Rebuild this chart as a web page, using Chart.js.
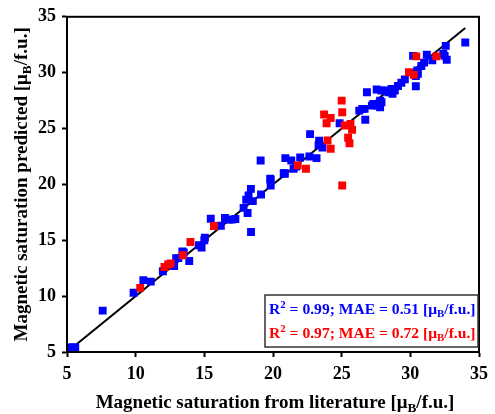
<!DOCTYPE html>
<html>
<head>
<meta charset="utf-8">
<script src="https://cdn.jsdelivr.net/npm/chart.js@4/dist/chart.umd.min.js"></script>
<style>
  html, body { margin: 0; padding: 0; background: #fff; }
  #wrap { width: 495px; height: 414px; }
</style>
</head>
<body>
<div id="wrap"><canvas id="myChart" width="495" height="414"></canvas></div>
<script>
// 学習データ（青）: [文献値, 予測値]
var trainX = [5.2, 5.6, 5.4, 7.6, 9.85, 10.56, 11.1, 11.98, 12.8, 12.95, 13.1, 13.5, 13.4, 13.9,
  14.6, 14.8, 15.0, 15.04, 15.47, 16.2, 16.5, 16.8, 17.0, 17.26, 18.4, 17.86, 18.15, 18.05, 18.22,
  18.53, 18.39, 19.13, 19.83, 19.83, 20.78, 19.1, 20.85, 20.9, 21.33, 21.5, 21.7, 21.98, 22.65,
  23.17, 22.7, 23.36, 23.32, 23.6, 24.85, 26.84, 26.28, 26.67, 26.72, 27.3, 27.8, 27.8, 27.9,
  29.6, 29.35, 29.1, 28.87, 28.63, 28.4, 28.15, 27.56, 27.2, 27.9, 30.4, 30.4, 30.5, 30.8, 31.0,
  31.6, 31.2, 32.4, 32.65, 32.58, 34.0, 26.5, 27.55, 28.7, 30.2, 32.5, 30.55, 19.8, 20.85];
var trainY = [5.4, 5.4, 5.4, 8.7, 10.3, 11.43, 11.3, 12.23, 12.7, 13.4, 13.4, 13.9, 14.0, 13.15,
  14.55, 14.35, 15.0, 15.24, 16.93, 16.3, 17.0, 16.85, 16.85, 16.9, 15.74, 17.9, 17.44, 18.63, 19.0,
  18.5, 19.6, 19.1, 20.4, 19.9, 21.0, 22.14, 20.95, 22.35, 22.14, 21.4, 21.6, 22.4, 22.5,
  22.35, 24.5, 23.9, 23.5, 23.3, 25.47, 28.24, 26.6, 26.76, 25.78, 27.2, 27.5, 26.9, 28.4,
  29.4, 29.1, 28.8, 28.4, 28.55, 28.24, 28.4, 27.05, 27.05, 27.35, 28.78, 29.7, 30.2, 30.6, 30.9,
  31.1, 31.6, 31.67, 31.16, 32.4, 32.7, 26.75, 28.5, 28.1, 31.5, 31.5, 29.9, 20.5, 21.0];

// テストデータ（赤）
var testX = [10.33, 12.1, 12.36, 12.55, 13.43, 13.99, 15.7, 21.8, 22.4, 23.97, 24.2, 23.72, 24.2,
  23.9, 25.0, 25.04, 25.23, 25.64, 25.76, 25.47, 25.57, 25.04, 29.9, 30.25, 30.43, 31.9];
var testY = [10.74, 12.6, 12.83, 12.92, 13.66, 14.85, 16.28, 21.7, 21.4, 23.93, 23.19, 26.25, 25.95,
  25.47, 27.5, 26.46, 25.27, 25.42, 24.88, 24.17, 23.69, 19.9, 30.03, 29.8, 31.46, 31.46];

// y = x の線
var lineX = [5, 34];
var lineY = [5, 34];

var tickValues = [5, 10, 15, 20, 25, 30, 35];
var xTitle = [['Magnetic saturation from literature [\u03bc', 'n'], ['B', 'sub'], ['/f.u.]', 'n']];
var yTitle = [['Magnetic saturation predicted [\u03bc', 'n'], ['B', 'sub'], ['/f.u.]', 'n']];
var statTrain = [['R', 'n'], ['2', 'sup'], [' = 0.99; MAE = 0.51 [\u03bc', 'n'], ['B', 'sub'], ['/f.u.]', 'n']];
var statTest = [['R', 'n'], ['2', 'sup'], [' = 0.97; MAE = 0.72 [\u03bc', 'n'], ['B', 'sub'], ['/f.u.]', 'n']];

function toPoints(xs, ys) {
  var pts = [];
  for (var i = 0; i < xs.length; i++) pts.push({ x: xs[i], y: ys[i] });
  return pts;
}

var FONT = '"Liberation Serif", "Times New Roman", serif';

// 上付き・下付き付きの文字列を描く
function richWidth(ctx, parts, size) {
  var w = 0;
  parts.forEach(function (p) {
    var s = p[1] === 'n' ? size : size * 0.7;
    ctx.font = 'bold ' + s + 'px ' + FONT;
    w += ctx.measureText(p[0]).width;
  });
  return w;
}
function drawRich(ctx, parts, x, y, size, color) {
  ctx.fillStyle = color;
  ctx.textBaseline = 'alphabetic';
  ctx.textAlign = 'left';
  parts.forEach(function (p) {
    var s = p[1] === 'n' ? size : size * 0.7;
    var dy = p[1] === 'sup' ? -size * 0.38 : (p[1] === 'sub' ? size * 0.22 : 0);
    ctx.font = 'bold ' + s + 'px ' + FONT;
    ctx.fillText(p[0], x, y + dy);
    x += ctx.measureText(p[0]).width;
  });
}

var decorPlugin = {
  id: 'decor',
  afterDraw: function (chart) {
    var ctx = chart.ctx;
    var a = chart.chartArea;
    ctx.save();
    // 枠線
    ctx.strokeStyle = '#000';
    ctx.lineWidth = 2;
    ctx.strokeRect(a.left, a.top, a.right - a.left, a.bottom - a.top);

    // 凡例ボックス
    ctx.strokeStyle = '#333';
    ctx.lineWidth = 1.5;
    ctx.fillStyle = '#fff';
    ctx.fillRect(265, 295, 213, 52);
    ctx.strokeRect(265, 295, 213, 52);
    drawRich(ctx, statTrain, 269, 314, 15.6, '#0000ff');
    drawRich(ctx, statTest, 269, 338, 15.6, '#ff0000');

    // x 軸タイトル
    var cx = (a.left + a.right) / 2;
    var w = richWidth(ctx, xTitle, 19);
    drawRich(ctx, xTitle, cx - w / 2 + 2, 408, 19, '#000');

    // y 軸タイトル
    ctx.translate(27, (a.top + a.bottom) / 2);
    ctx.rotate(-Math.PI / 2);
    w = richWidth(ctx, yTitle, 19);
    drawRich(ctx, yTitle, -w / 2, 0, 19, '#000');
    ctx.restore();
  }
};

var tickFont = { family: FONT, size: 18, weight: 'bold' };

var ctx = document.getElementById('myChart').getContext('2d');
var myChart = new Chart(ctx, {
  data: {
    datasets: [
      {
        type: 'scatter',
        label: 'test',
        data: toPoints(testX, testY),
        backgroundColor: '#ff0000',
        borderWidth: 0,
        pointStyle: 'rect',
        pointRadius: 5.6
      },
      {
        type: 'scatter',
        label: 'train',
        data: toPoints(trainX, trainY),
        backgroundColor: '#0000ff',
        borderWidth: 0,
        pointStyle: 'rect',
        pointRadius: 5.6
      },
      {
        type: 'line',
        label: 'y=x',
        data: toPoints(lineX, lineY),
        borderColor: '#000',
        borderWidth: 2,
        pointRadius: 0,
        fill: false
      }
    ]
  },
  options: {
    responsive: false,
    animation: false,
    layout: { padding: { top: 16, right: 10, left: 0, bottom: 0 } },
    plugins: { legend: { display: false }, tooltip: { enabled: false } },
    scales: {
      x: {
        type: 'linear',
        min: 5, max: 35,
        afterBuildTicks: function (s) { s.ticks = tickValues.map(function (v) { return { value: v }; }); },
        afterFit: function (s) { s.height = 62; },
        ticks: { font: tickFont, color: '#000', padding: 7, maxRotation: 0 },
        grid: { drawOnChartArea: false, drawTicks: true, tickLength: 5, tickWidth: 2, color: '#000' },
        border: { color: '#000', width: 2 }
      },
      y: {
        type: 'linear',
        min: 5, max: 35,
        afterBuildTicks: function (s) { s.ticks = tickValues.map(function (v) { return { value: v }; }); },
        afterFit: function (s) { s.width = 67; },
        ticks: { font: tickFont, color: '#000', padding: 6 },
        grid: { drawOnChartArea: false, drawTicks: true, tickLength: 5, tickWidth: 2, color: '#000' },
        border: { color: '#000', width: 2 }
      }
    }
  },
  plugins: [decorPlugin]
});
</script>
</body>
</html>
